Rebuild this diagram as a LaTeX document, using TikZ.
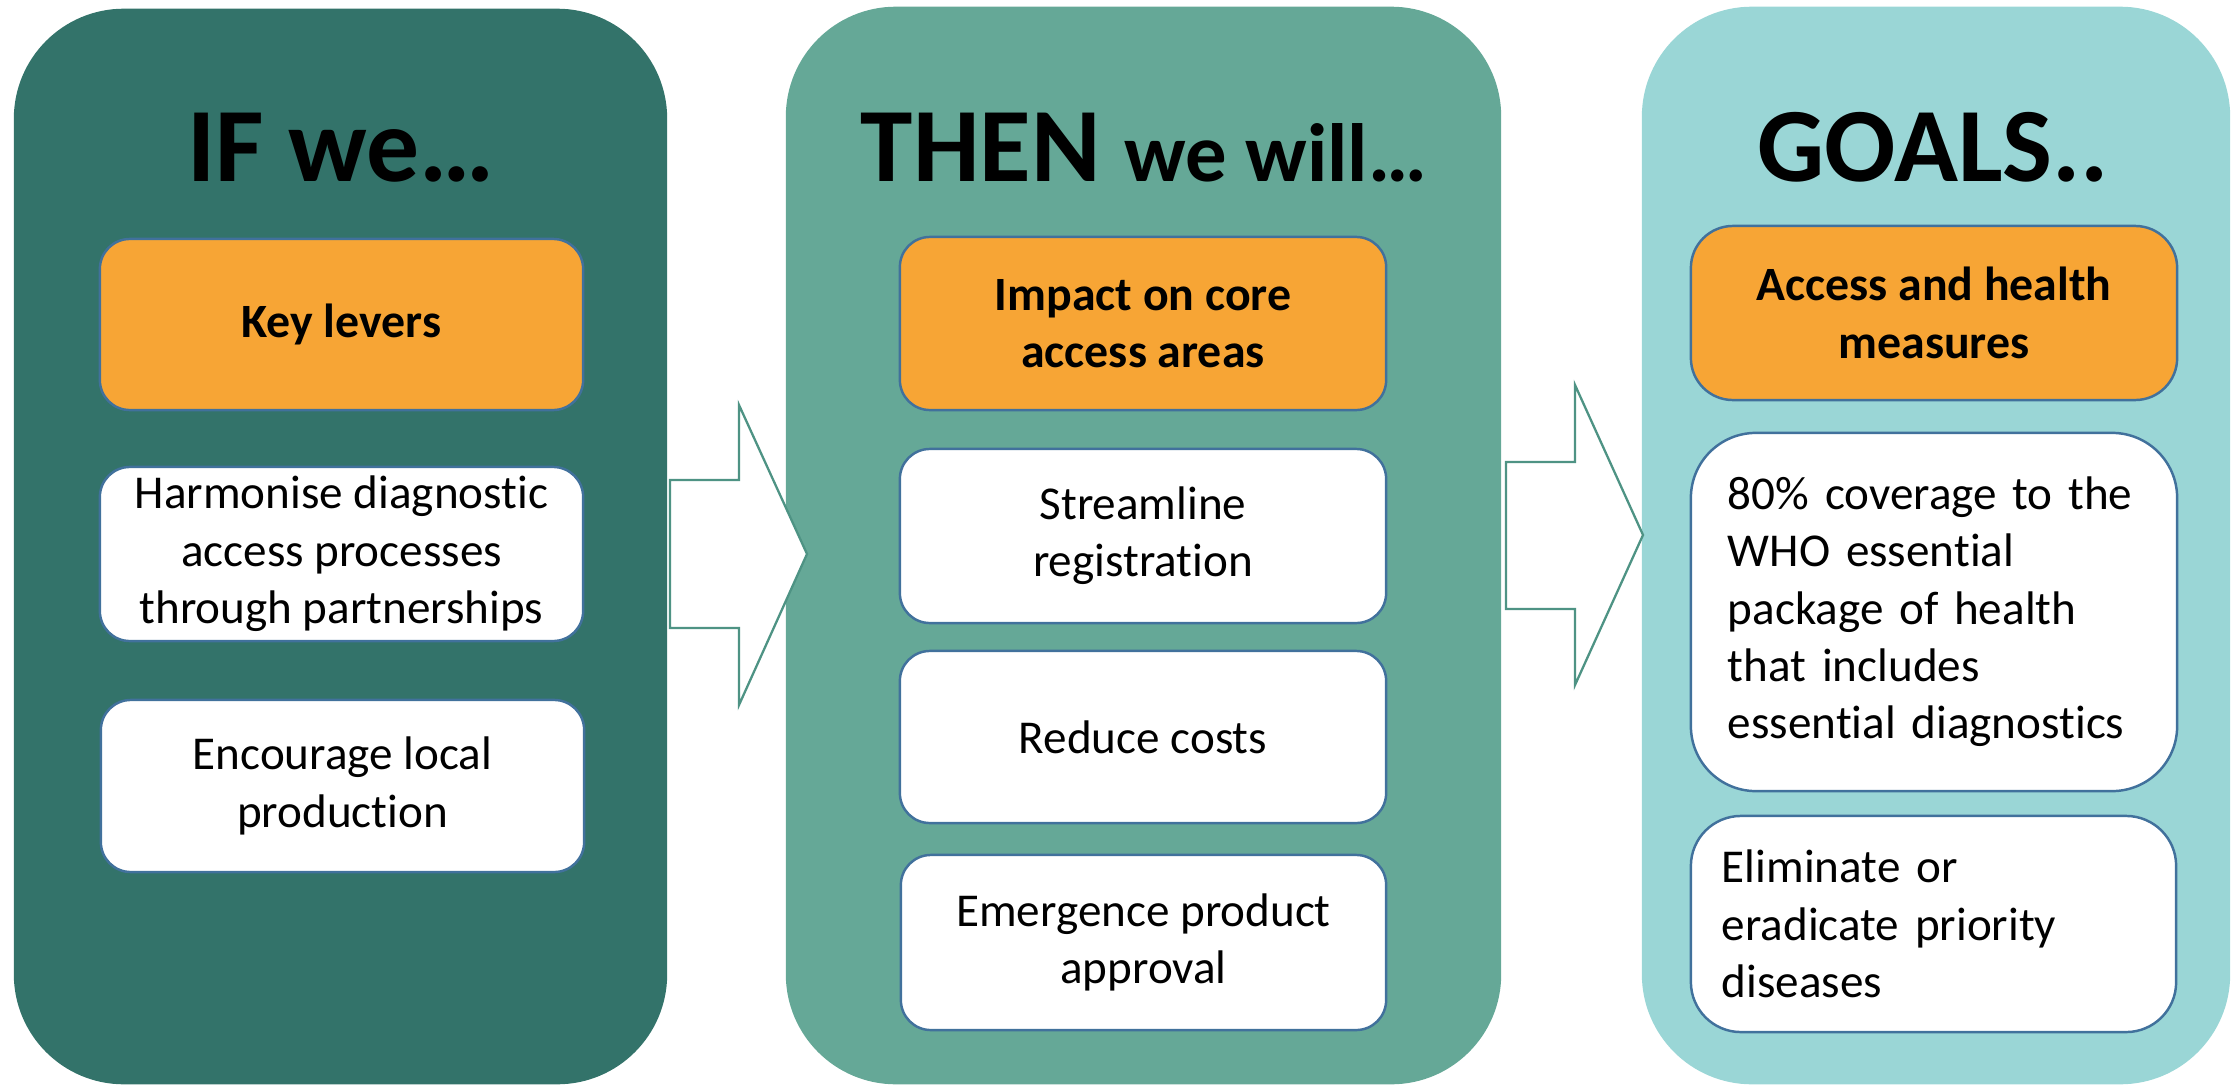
\documentclass[tikz,border=0pt]{standalone}
\usepackage{fontspec}
\setmainfont{Carlito}[Ligatures=NoCommon]

\definecolor{ifcol}{HTML}{33736A}
\definecolor{thencol}{HTML}{65A897}
\definecolor{goalcol}{HTML}{9AD6D6}
\definecolor{levercol}{HTML}{F7A535}
\definecolor{edgecol}{HTML}{41719C}
\definecolor{arrowcol}{HTML}{4E9384}

\tikzset{
    panel/.style={rounded corners=1.1cm, inner sep=0pt},
    boxbase/.style={draw=edgecol, line width=0.7pt, rounded corners=0.3cm,
        inner sep=0pt, align=center, font=\fontsize{13.4}{16.3}\selectfont},
    lever/.style={boxbase, fill=levercol, font=\fontsize{13.6}{16.3}\selectfont\bfseries},
    item/.style={boxbase, fill=white},
    title/.style={anchor=base, font=\fontsize{30}{36}\selectfont\bfseries},
    blockarrow/.style={draw=arrowcol, fill=white, line width=0.65pt, line join=miter}
}

\begin{document}
\begin{tikzpicture}[x=0.01cm, y=-0.01cm]
    \useasboundingbox (0,0) rectangle (2234,1085);

    % the three columns
    \node[panel, fill=ifcol, minimum width=6.53cm, minimum height=10.75cm] (ifpanel) at (340.5,546.5) {};
    \node[panel, fill=thencol, minimum width=7.15cm, minimum height=10.77cm] (thenpanel) at (1143.5,545.5) {};
    \node[panel, fill=goalcol, minimum width=5.88cm, minimum height=10.77cm] (goalpanel) at (1936,545.5) {};

    \node[title] (iftitle) at (341,182) {IF we…};
    \node[title] (thentitle) at (1144,182) {THEN {\fontsize{23.5}{28}\selectfont we will…}};
    \node[title] (goaltitle) at (1933,182) {GOALS..};

    % IF column
    \node[lever, minimum width=4.83cm, minimum height=1.71cm] (keylevers) at (341.5,324.5) {Key levers};
    \node[item, minimum width=4.83cm, minimum height=1.74cm] (harmonise) at (341.5,554)
        {Harmonise diagnostic\\access processes\\through partnerships};
    \node[item, minimum width=4.83cm, minimum height=1.72cm] (encourage) at (342.5,786)
        {Encourage local\\production};

    % THEN column
    \node[lever, minimum width=4.86cm, minimum height=1.73cm] (impact) at (1143,323.5)
        {Impact on core\\access areas};
    \node[item, minimum width=4.86cm, minimum height=1.74cm] (streamline) at (1143,536)
        {Streamline\\registration};
    \node[item, minimum width=4.86cm, minimum height=1.72cm] (reduce) at (1143,737) {Reduce costs};
    \node[item, minimum width=4.85cm, minimum height=1.75cm] (emergence) at (1143.5,942.5)
        {Emergence product\\approval};

    % GOALS column
    \node[lever, rounded corners=0.42cm, minimum width=4.86cm, minimum height=1.74cm] (measures) at (1934,313)
        {Access and health\\measures};
    \node[item, rounded corners=0.65cm, align=left, inner xsep=0.37cm, text width=4.12cm,
        minimum height=3.58cm] (coverage) at (1934,612)
        {80\% coverage to the\\WHO essential\\package of health\\that includes\\essential diagnostics};
    \node[item, rounded corners=0.5cm, align=left, inner xsep=0.31cm, text width=4.23cm,
        minimum height=2.16cm] (eliminate) at (1933.5,924)
        {Eliminate or\\eradicate priority\\diseases};

    % block arrows between the columns
    \draw[blockarrow] (670,480) -- (739,480) -- (739,405) -- (807,554) -- (739,705) -- (739,628) -- (670,628) -- cycle;
    \draw[blockarrow] (1506,462) -- (1575,462) -- (1575,385) -- (1643,535) -- (1575,685) -- (1575,609) -- (1506,609) -- cycle;
\end{tikzpicture}
\end{document}
